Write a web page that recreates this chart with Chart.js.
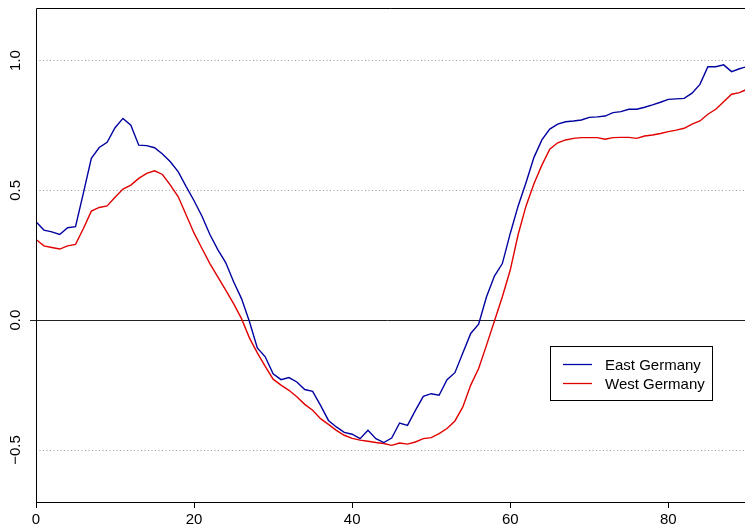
<!DOCTYPE html>
<html>
<head>
<meta charset="utf-8">
<script src="https://cdn.jsdelivr.net/npm/chart.js@4.4.1/dist/chart.umd.min.js"></script>
<style>
  html, body { margin: 0; padding: 0; background: #fff; }
  canvas { display: block; }
</style>
</head>
<body>
<canvas id="chart" width="745" height="526"></canvas>
<script>
const ages = [0, 1, 2, 3, 4, 5, 6, 7, 8, 9, 10, 11, 12, 13, 14, 15, 16, 17, 18, 19,
  20, 21, 22, 23, 24, 25, 26, 27, 28, 29, 30, 31, 32, 33, 34, 35, 36, 37, 38, 39,
  40, 41, 42, 43, 44, 45, 46, 47, 48, 49, 50, 51, 52, 53, 54, 55, 56, 57, 58, 59,
  60, 61, 62, 63, 64, 65, 66, 67, 68, 69, 70, 71, 72, 73, 74, 75, 76, 77, 78, 79,
  80, 81, 82, 83, 84, 85, 86, 87, 88, 89, 90];

const eastGermany = [0.379, 0.347, 0.34, 0.33, 0.356, 0.36, 0.49, 0.623, 0.665, 0.685,
  0.741, 0.777, 0.751, 0.674, 0.672, 0.664, 0.64, 0.61, 0.571, 0.514,
  0.46, 0.40, 0.33, 0.272, 0.222, 0.148, 0.083, -0.005, -0.107, -0.141,
  -0.206, -0.229, -0.221, -0.238, -0.267, -0.274, -0.328, -0.386, -0.411, -0.432,
  -0.439, -0.456, -0.424, -0.456, -0.471, -0.454, -0.396, -0.405, -0.347, -0.293,
  -0.283, -0.289, -0.229, -0.202, -0.126, -0.051, -0.015, 0.09, 0.17, 0.218,
  0.334, 0.44, 0.53, 0.627, 0.694, 0.736, 0.755, 0.764, 0.767, 0.771,
  0.781, 0.783, 0.786, 0.799, 0.803, 0.812, 0.812, 0.82, 0.829, 0.839,
  0.85, 0.852, 0.854, 0.874, 0.908, 0.976, 0.976, 0.983, 0.957, 0.968, 0.977];

const westGermany = [0.311, 0.286, 0.28, 0.274, 0.286, 0.292, 0.353, 0.42, 0.434, 0.44,
  0.473, 0.505, 0.52, 0.546, 0.565, 0.575, 0.561, 0.52, 0.475, 0.405,
  0.335, 0.276, 0.218, 0.167, 0.116, 0.064, 0.006, -0.068, -0.126, -0.178,
  -0.227, -0.25, -0.27, -0.295, -0.324, -0.347, -0.379, -0.401, -0.424, -0.443,
  -0.455, -0.462, -0.466, -0.471, -0.475, -0.482, -0.473, -0.477, -0.469, -0.456,
  -0.452, -0.437, -0.417, -0.388, -0.334, -0.25, -0.186, -0.096, -0.003, 0.09,
  0.193, 0.33, 0.44, 0.525, 0.597, 0.658, 0.683, 0.694, 0.70, 0.703,
  0.703, 0.703, 0.697, 0.703, 0.704, 0.704, 0.70, 0.709, 0.713, 0.719,
  0.726, 0.732, 0.739, 0.755, 0.767, 0.793, 0.812, 0.841, 0.870, 0.876, 0.89];

const xTicks = [0, 20, 40, 60, 80];
const yTicks = [-0.5, 0.0, 0.5, 1.0];
const yTickLabels = ['\u22120.5', '0.0', '0.5', '1.0'];

const FONT = '"Liberation Sans", Arial, Helvetica, sans-serif';

function toPoints(values) {
  return ages.map((a, i) => ({ x: a, y: values[i] }));
}

// grid lines, frame, rotated y labels and the legend box
const framePlugin = {
  id: 'frame',
  beforeDatasetsDraw(chart) {
    const { ctx, chartArea, scales } = chart;
    const y = scales.y;
    ctx.save();
    yTicks.forEach(v => {
      const py = Math.round(y.getPixelForValue(v)) + 0.5;
      ctx.beginPath();
      if (v === 0) {
        ctx.strokeStyle = '#222';
        ctx.lineWidth = 1;
        ctx.setLineDash([]);
        ctx.moveTo(chartArea.left - 6, py);
      } else {
        ctx.strokeStyle = '#999';
        ctx.lineWidth = 1;
        ctx.setLineDash([1, 2.5]);
        ctx.moveTo(chartArea.left, py);
      }
      ctx.lineTo(chartArea.right, py);
      ctx.stroke();
    });
    ctx.restore();
  },
  afterDraw(chart) {
    const { ctx, chartArea, scales } = chart;
    const y = scales.y;
    ctx.save();
    // frame: left and top
    ctx.strokeStyle = '#000';
    ctx.lineWidth = 1;
    ctx.beginPath();
    ctx.moveTo(chartArea.left + 0.5, chartArea.bottom);
    ctx.lineTo(chartArea.left + 0.5, chartArea.top + 0.5);
    ctx.lineTo(chartArea.right, chartArea.top + 0.5);
    ctx.stroke();

    // y labels, rotated like R
    ctx.fillStyle = '#000';
    ctx.font = '15px ' + FONT;
    ctx.textAlign = 'center';
    ctx.textBaseline = 'middle';
    yTicks.forEach((v, i) => {
      const py = y.getPixelForValue(v);
      ctx.save();
      ctx.translate(16, py);
      ctx.rotate(-Math.PI / 2);
      ctx.fillText(yTickLabels[i], 0, 0);
      ctx.restore();
    });

    // legend
    const bx = 550.5, by = 346.5, bw = 162, bh = 54;
    ctx.fillStyle = '#fff';
    ctx.fillRect(bx, by, bw, bh);
    ctx.strokeStyle = '#000';
    ctx.strokeRect(bx, by, bw, bh);
    ctx.textAlign = 'left';
    chart.data.datasets.forEach((ds, i) => {
      const ly = 364.5 + i * 19;
      ctx.strokeStyle = ds.borderColor;
      ctx.lineWidth = 1.3;
      ctx.beginPath();
      ctx.moveTo(563, ly);
      ctx.lineTo(592, ly);
      ctx.stroke();
      ctx.fillStyle = '#000';
      ctx.fillText(ds.label, 605, ly + 1);
    });
    ctx.restore();
  }
};

new Chart(document.getElementById('chart'), {
  type: 'line',
  data: {
    datasets: [
      {
        label: 'East Germany',
        data: toPoints(eastGermany),
        borderColor: '#0000A0',
        borderWidth: 1.4,
        pointRadius: 0,
        tension: 0,
        fill: false
      },
      {
        label: 'West Germany',
        data: toPoints(westGermany),
        borderColor: '#E00000',
        borderWidth: 1.4,
        pointRadius: 0,
        tension: 0,
        fill: false
      }
    ]
  },
  options: {
    responsive: false,
    animation: false,
    layout: { padding: { top: 8, right: 0, left: 0, bottom: 0 } },
    plugins: {
      legend: { display: false },
      tooltip: { enabled: false }
    },
    scales: {
      x: {
        type: 'linear',
        min: 0,
        max: 89.7,
        afterBuildTicks: scale => {
          scale.ticks = xTicks.map(v => ({ value: v }));
        },
        afterFit: scale => { scale.height = 24; },
        grid: {
          display: true,
          drawOnChartArea: false,
          drawTicks: true,
          tickLength: 6,
          color: '#000'
        },
        border: { display: true, color: '#000', width: 1 },
        ticks: {
          color: '#000',
          font: { family: FONT, size: 15 },
          padding: 3,
          maxRotation: 0,
          autoSkip: false
        }
      },
      y: {
        type: 'linear',
        min: -0.70,
        max: 1.202,
        afterFit: scale => { scale.width = 36; },
        grid: { display: false },
        border: { display: false },
        ticks: { display: false }
      }
    }
  },
  plugins: [framePlugin]
});
</script>
</body>
</html>
